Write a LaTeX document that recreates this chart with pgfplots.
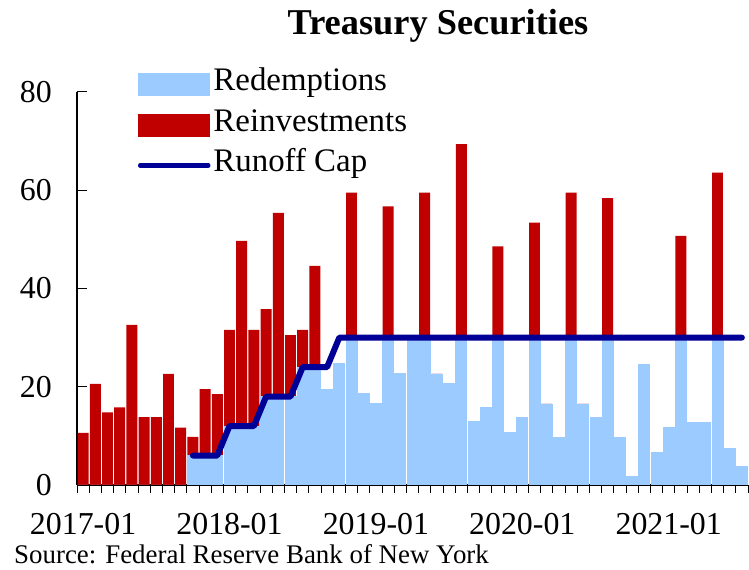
\documentclass[border=0pt]{standalone}
\usepackage{pgfplots}
\pgfplotsset{compat=1.18}
\usepackage{pgfplotstable}
\usepackage{fontspec}
\setmainfont{Liberation Serif}

\definecolor{redemp}{RGB}{155,203,255}
\definecolor{reinv}{RGB}{192,0,0}
\definecolor{capline}{RGB}{0,0,150}

% monthly Treasury flows, 2017-01 .. 2021-07 (billions)
\pgfplotstableread{
idx blue red  cap
0   0    10.6 nan
1   0    20.6 nan
2   0    14.8 nan
3   0    15.8 nan
4   0    32.6 nan
5   0    13.8 nan
6   0    13.8 nan
7   0    22.6 nan
8   0    11.7 nan
9   6    3.8  6
10  6    13.5 6
11  6    12.5 6
12  12   19.6 12
13  12   37.7 12
14  12   19.6 12
15  18   17.8 18
16  18   37.4 18
17  18   12.5 18
18  24   7.6  24
19  24   20.6 24
20  19.5 0    24
21  24.8 0    30
22  30   29.5 30
23  18.7 0    30
24  16.6 0    30
25  30   26.7 30
26  22.7 0    30
27  30   0    30
28  30   29.5 30
29  22.6 0    30
30  20.6 0    30
31  30   39.4 30
32  12.9 0    30
33  15.8 0    30
34  30   18.6 30
35  10.7 0    30
36  13.8 0    30
37  30   23.4 30
38  16.5 0    30
39  9.7  0    30
40  30   29.5 30
41  16.5 0    30
42  13.8 0    30
43  30   28.4 30
44  9.7  0    30
45  1.7  0    30
46  24.6 0    30
47  6.6  0    30
48  11.7 0    30
49  30   20.7 30
50  12.7 0    30
51  12.7 0    30
52  30   33.6 30
53  7.5  0    30
54  3.7  0    30
}\flows

\pgfplotsset{
  boxlegend/.style={legend image code/.code={\fill[##1] (0bp,-11.5bp) rectangle (72bp,11.5bp);}},
  linelegend/.style={legend image code/.code={\draw[##1,line width=4.5bp,line cap=round] (2bp,0bp) -- (70bp,0bp);}},
}

\begin{document}
\begin{tikzpicture}
\begin{axis}[
    at={(77bp,85bp)}, anchor=south west,
    scale only axis,
    width=671bp, height=393bp,
    xmin=-0.5, xmax=54.5,
    ymin=0, ymax=80,
    axis x line*=bottom,
    axis y line*=left,
    axis line style={black, line width=1.2bp},
    xtick={0,12,24,36,48},
    xticklabels={2017-01,2018-01,2019-01,2020-01,2021-01},
    minor xtick={-0.5,0.5,...,54.5},
    major x tick style={draw=none},
    minor x tick style={black, line width=1bp},
    xtick align=outside,
    ytick={0,20,...,80},
    ytick align=inside,
    major y tick style={black, line width=1bp},
    major tick length=10bp,
    minor tick length=8bp,
    /pgf/number format/assume math mode=true,
    tick label style={font=\fontsize{32}{32}\selectfont},
    yticklabel style={anchor=east, inner sep=0pt, xshift=-25bp},
    xticklabel style={anchor=north, inner sep=0pt, yshift=-18bp},
    legend style={
        at={(axis description cs:0.0909,1.0547)}, anchor=north west,
        draw=none, fill=none, inner sep=0pt, outer sep=0pt,
        row sep=12.5bp, column sep=3bp,
        font=\fontsize{33}{33}\selectfont,
        nodes={inner sep=0pt, text height=20bp, text depth=8bp},
    },
    legend cell align=left,
]
\addlegendimage{fill=redemp, draw=none, boxlegend}
\addlegendentry{Redemptions}
\addlegendimage{fill=reinv, draw=none, boxlegend}
\addlegendentry{Reinvestments}

\addplot[ybar, bar width=0.9, bar shift=0pt, fill=reinv, draw=none, forget plot]
    table[x=idx, y expr=\thisrow{blue}+\thisrow{red}] {\flows};
\addplot[ybar, bar width=0.9, bar shift=0pt, fill=redemp, draw=redemp, line width=0.8bp, forget plot]
    table[x=idx, y=blue] {\flows};
\addplot[capline, line width=6bp, line join=round, line cap=round, linelegend]
    table[x=idx, y=cap] {\flows};
\addlegendentry{Runoff Cap}
\end{axis}

\node[anchor=base, font=\fontsize{36.5}{36.5}\selectfont\bfseries] at (438bp,535bp) {Treasury Securities};
\node[anchor=base west, inner sep=0pt, font=\fontsize{27}{27}\selectfont] at (14bp,7bp) {Source: Federal Reserve Bank of New York};

\pgfresetboundingbox
\useasboundingbox (0,0) rectangle (749bp,570bp);
\end{tikzpicture}
\end{document}
